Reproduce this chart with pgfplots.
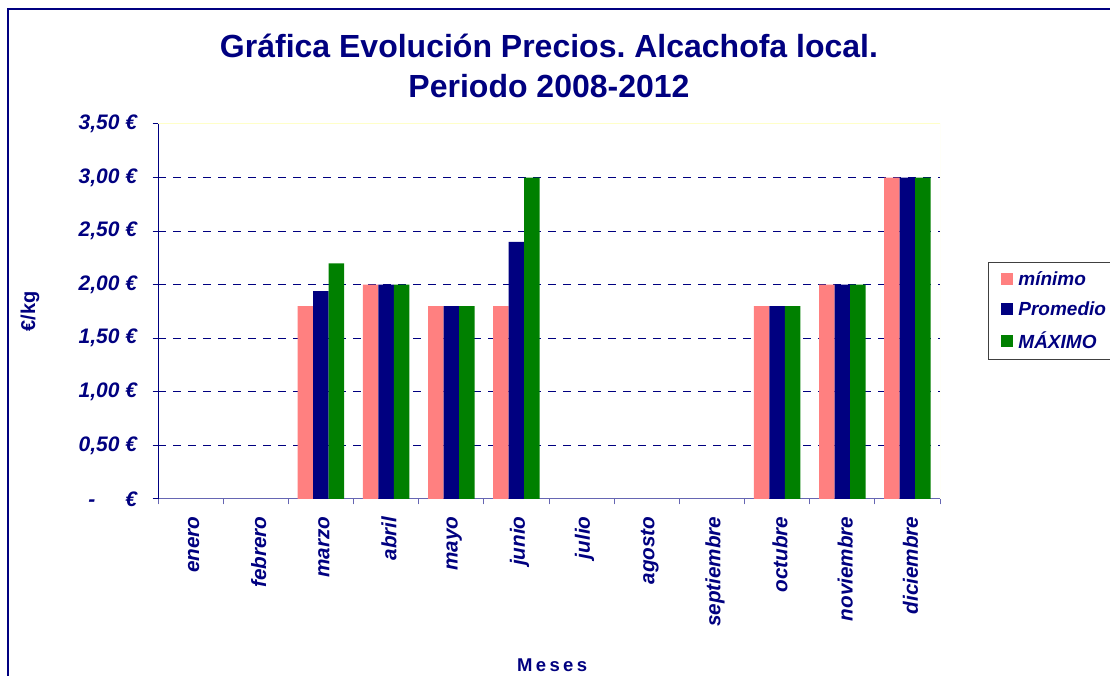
\documentclass[border=0pt]{standalone}
\usepackage{fontspec}
\setmainfont{Liberation Sans}
\newfontfamily\spaced[LetterSpace=18]{Liberation Sans}
\usepackage{pgfplots}
\pgfplotsset{compat=1.18}
\frenchspacing
\definecolor{navy}{HTML}{000080}
\definecolor{pinkbar}{HTML}{FF8080}
\definecolor{greenbar}{HTML}{008000}
\definecolor{paleyellow}{HTML}{FFFFC8}
\definecolor{palegrid}{HTML}{E4E4D0}
\begin{document}
\begin{tikzpicture}
\path[use as bounding box] (0,0) rectangle (1110pt,676pt);
\fill[white] (0,0) rectangle (1110pt,676pt);
\draw[navy, line width=1.5pt] (8pt,667pt) rectangle (1140pt,-30pt);
\begin{axis}[
  at={(158pt,177pt)}, anchor=south west,
  width=782pt, height=375pt, scale only axis,
  xmin=-0.5, xmax=11.5, ymin=0, ymax=3.5,
  ybar=0pt, bar width=15.5pt,
  axis x line*=bottom, axis y line*=left,
  x axis line style={draw=navy!60, line width=1pt},
  y axis line style={draw=navy, line width=1pt},
  tick align=outside,
  major tick length=5.5pt,
  every tick/.style={line width=1pt},
  xtick={-0.5,0.5,...,11.5},
  xticklabels={},
  x tick style={draw=navy!60},
  extra x ticks={0,1,2,3,4,5,6,7,8,9,10,11},
  extra x tick labels={enero,febrero,marzo,abril,mayo,junio,julio,agosto,septiembre,octubre,noviembre,diciembre},
  extra x tick style={major tick length=0pt, draw=none,
    xticklabel style={xshift=3pt, rotate=90, anchor=east, font=\fontsize{20.7}{24}\selectfont\bfseries\itshape, text=navy}},
  xticklabel shift=14pt,
  ytick={0,0.5,...,3},
  y tick style={draw=navy},
  yticklabels={{-\hspace{30pt}€},{0,50 €},{1,00 €},{1,50 €},{2,00 €},{2,50 €},{3,00 €}},
  extra y ticks={3.5},
  extra y tick style={yticklabel={3,50 €},
    grid style={draw=palegrid, dash pattern=on 8pt off 7pt, line width=1pt}},
  yticklabel style={font=\fontsize{21}{24}\selectfont\bfseries\itshape, text=navy, anchor=east},
  yticklabel shift=12pt,
  ymajorgrids,
  grid style={draw=navy, dash pattern=on 8pt off 7pt, line width=1pt},
  title={Gráfica Evolución Precios. Alcachofa local.\\Periodo 2008-2012},
  title style={at={(axis description cs:0.5,1.14)}, anchor=center, align=center,
    font=\fontsize{32}{40}\selectfont\bfseries, text=navy},
  xlabel={Meses},
  xlabel style={at={(axis description cs:0.504,-0.443)}, anchor=center,
    font=\fontsize{18.5}{22}\selectfont\spaced\bfseries, text=navy},
  ylabel={€/kg},
  ylabel style={at={(axis description cs:-0.1637,0.5)}, anchor=center, rotate=0,
    font=\fontsize{20}{24}\selectfont\bfseries, text=navy},
  legend style={at={(rel axis cs:1.0614,0.632)}, anchor=north west,
    draw=black!75, line width=0.8pt, fill=white,
    font=\fontsize{19}{22}\selectfont\bfseries\itshape, text=navy,
    row sep=11pt, inner xsep=6pt, inner ysep=7pt},
  legend cell align=left,
  legend image code/.code={\path (0pt,0pt) (22pt,0pt); \fill[#1] (7pt,-6pt) rectangle (19pt,6pt);},
]
\addplot[fill=pinkbar, draw=none] coordinates {(2,1.80) (3,2.00) (4,1.80) (5,1.80) (9,1.80) (10,2.00) (11,3.00)};
\addplot[fill=navy, draw=none] coordinates {(2,1.94) (3,2.00) (4,1.80) (5,2.40) (9,1.80) (10,2.00) (11,3.00)};
\addplot[fill=greenbar, draw=none] coordinates {(2,2.20) (3,2.00) (4,1.80) (5,3.00) (9,1.80) (10,2.00) (11,3.00)};
\legend{mínimo,Promedio,MÁXIMO}
\draw[draw=paleyellow, line width=1pt] (rel axis cs:0,1) -- (rel axis cs:1,1) -- (rel axis cs:1,0);
\end{axis}
\end{tikzpicture}
\end{document}
